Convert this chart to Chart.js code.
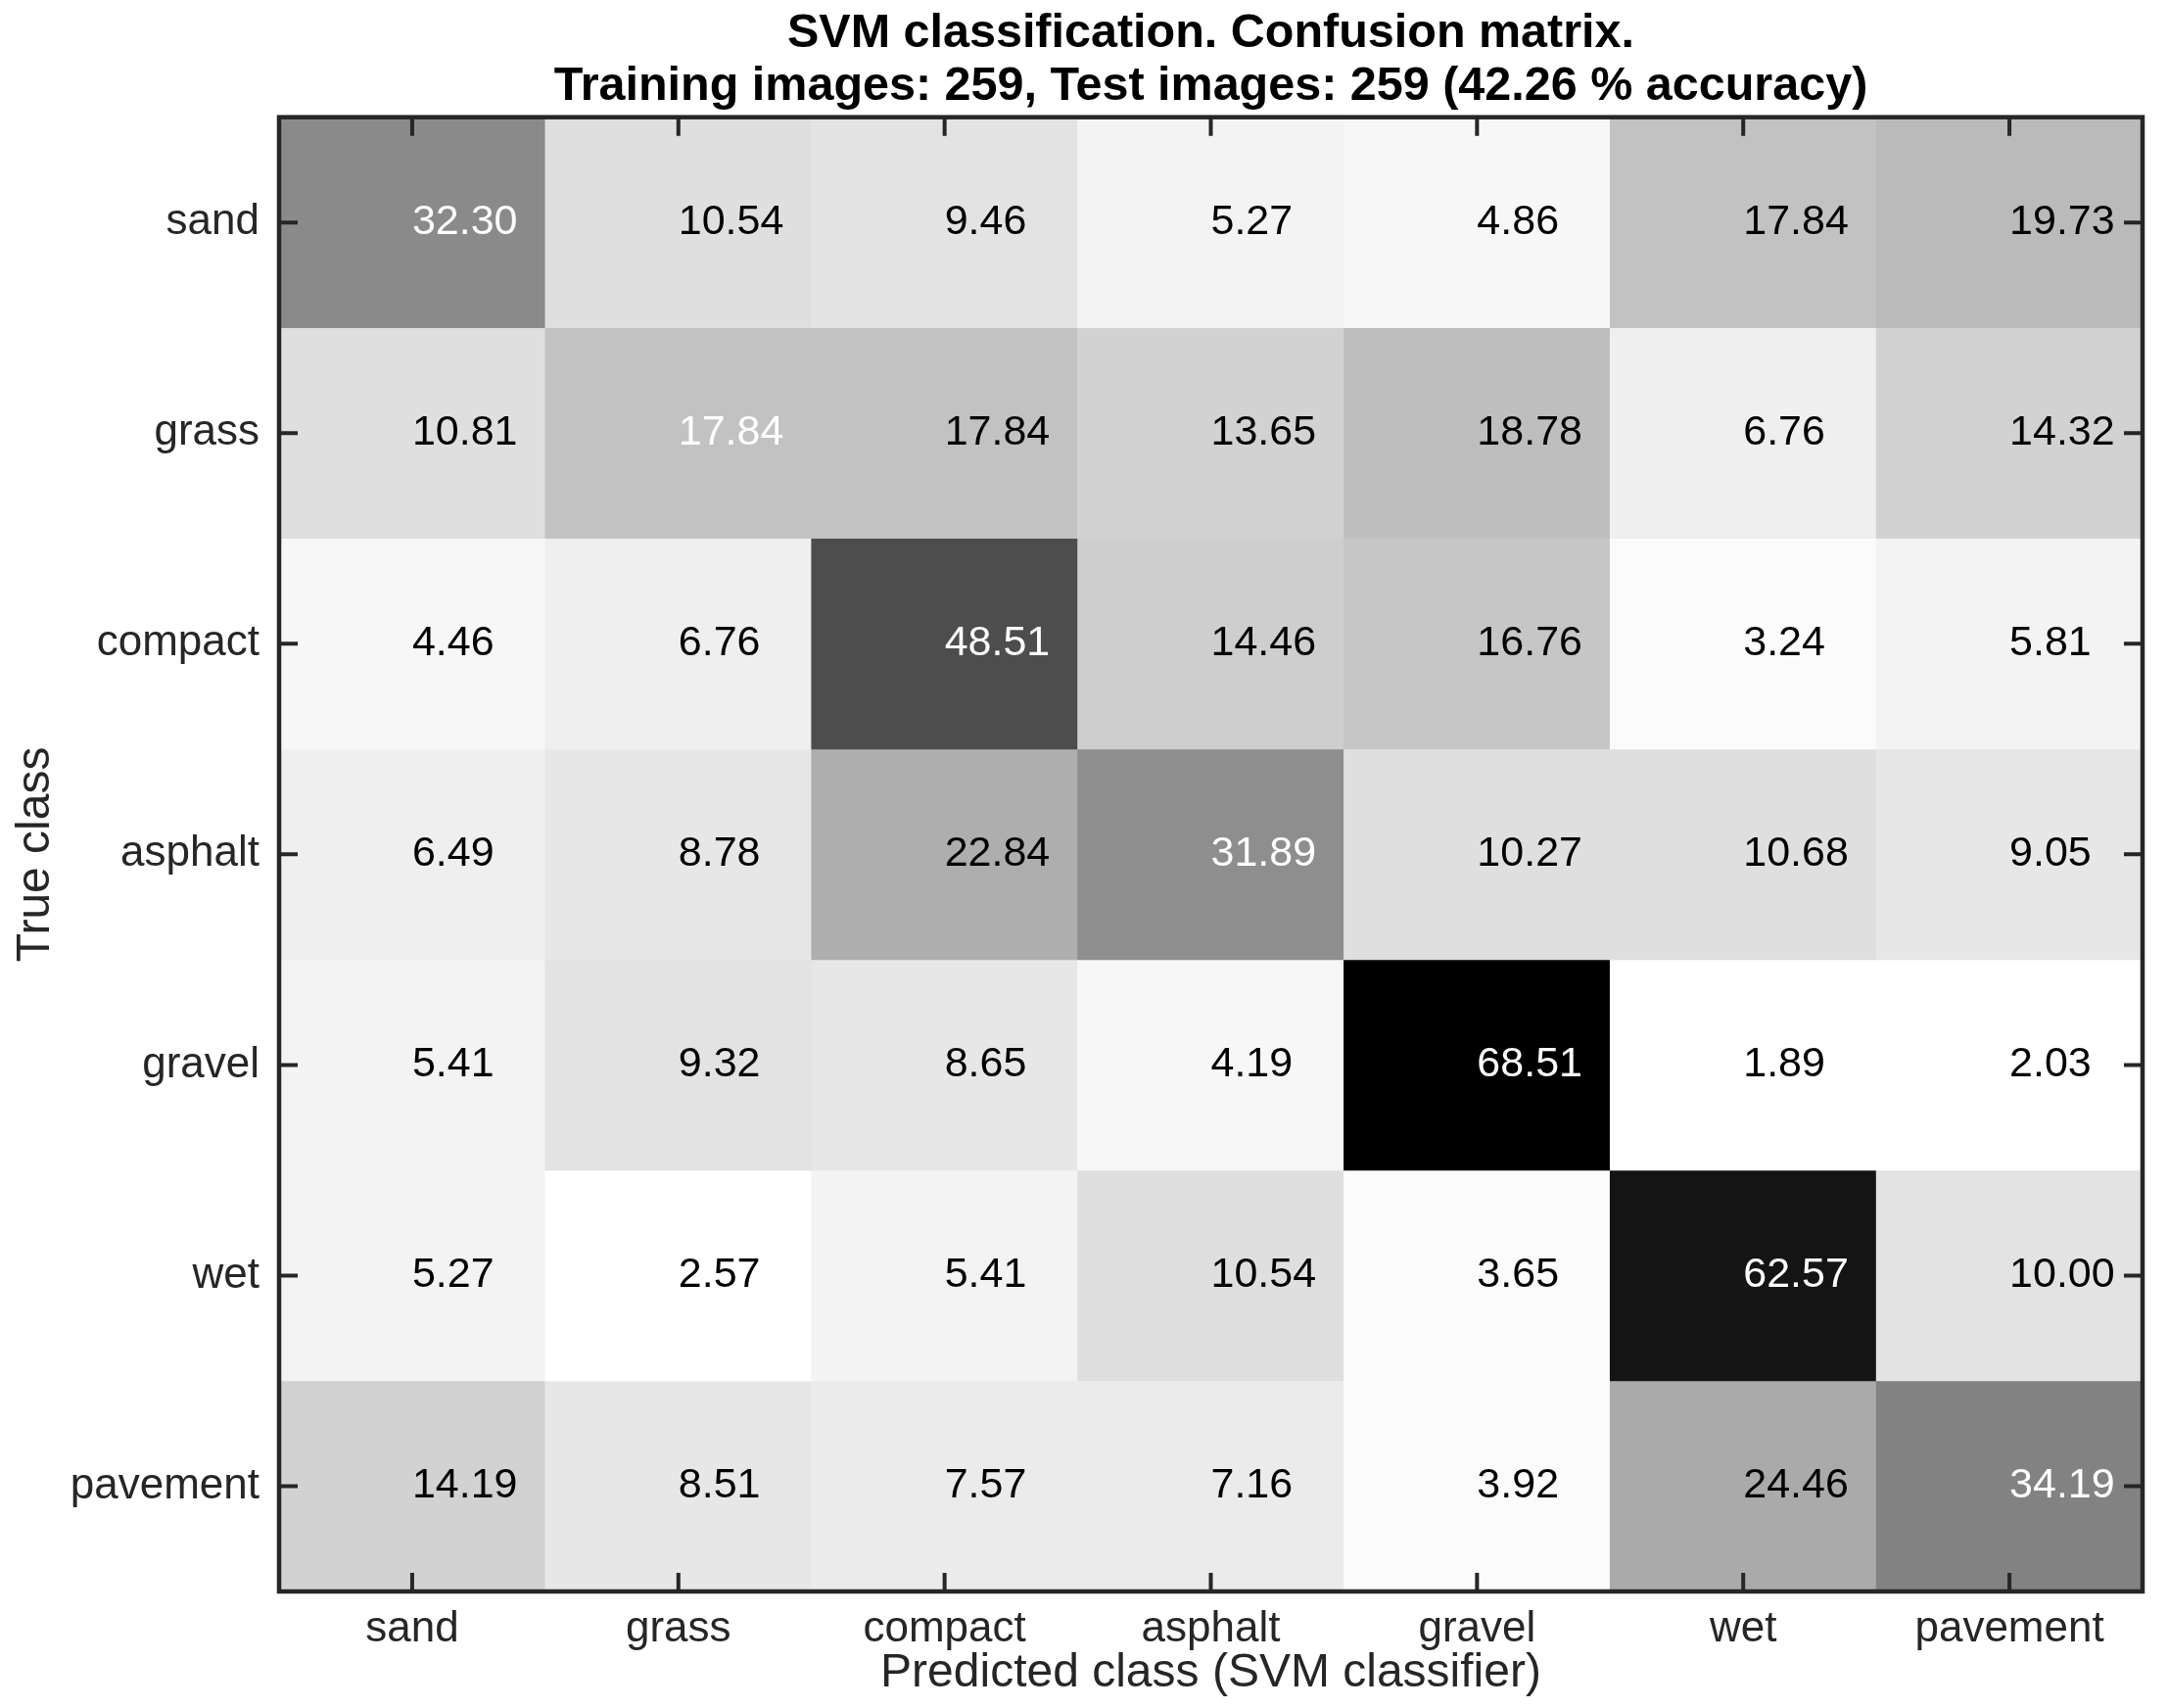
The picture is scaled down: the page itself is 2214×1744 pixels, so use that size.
<!DOCTYPE html>
<html>
<head>
<meta charset="utf-8">
<script src="https://cdn.jsdelivr.net/npm/chart.js@4.4.1/dist/chart.umd.min.js"></script>
<style>
  html, body { margin: 0; padding: 0; background: #fff; }
  #wrap { width: 2214px; height: 1744px; }
</style>
</head>
<body>
<div id="wrap"><canvas id="cm"></canvas></div>
<script>
const predictedClasses = ['sand', 'grass', 'compact', 'asphalt', 'gravel', 'wet', 'pavement'];
const trueClasses = ['sand', 'grass', 'compact', 'asphalt', 'gravel', 'wet', 'pavement'];

// one row per true class, values in % over predicted classes
const sandRow     = [32.30, 10.54,  9.46,  5.27,  4.86, 17.84, 19.73];
const grassRow    = [10.81, 17.84, 17.84, 13.65, 18.78,  6.76, 14.32];
const compactRow  = [ 4.46,  6.76, 48.51, 14.46, 16.76,  3.24,  5.81];
const asphaltRow  = [ 6.49,  8.78, 22.84, 31.89, 10.27, 10.68,  9.05];
const gravelRow   = [ 5.41,  9.32,  8.65,  4.19, 68.51,  1.89,  2.03];
const wetRow      = [ 5.27,  2.57,  5.41, 10.54,  3.65, 62.57, 10.00];
const pavementRow = [14.19,  8.51,  7.57,  7.16,  3.92, 24.46, 34.19];

const rows = [sandRow, grassRow, compactRow, asphaltRow, gravelRow, wetRow, pavementRow];

const titleLines = ['SVM classification. Confusion matrix.',
                    'Training images: 259, Test images: 259 (42.26 % accuracy)'];

const allVals = rows.flat();
const vMin = Math.min(...allVals);
const vMax = Math.max(...allVals);

// inverted gray colormap with 64 levels
function grayFor(v) {
    const idx = Math.min(Math.floor((v - vMin) / (vMax - vMin) * 64), 63);
    const g = Math.round(255 * (63 - idx) / 63);
    return 'rgb(' + g + ',' + g + ',' + g + ')';
}

const datasets = rows.map((row, r) => ({
    label: trueClasses[r],
    data: row.map(() => [r, r + 1]),
    backgroundColor: row.map(grayFor),
    borderWidth: 0,
    barPercentage: 1.0,
    categoryPercentage: 1.0,
    grouped: false
}));

const axisColor = '#262626';

// frame, inward ticks on all four sides and the cell values
const matrixDecor = {
    id: 'matrixDecor',
    afterDatasetsDraw(chart) {
        const ctx = chart.ctx;
        const area = chart.chartArea;
        const xs = chart.scales.x;
        const ys = chart.scales.y;

        ctx.save();
        ctx.font = '43px "Liberation Sans", Arial, sans-serif';
        ctx.textAlign = 'left';
        ctx.textBaseline = 'middle';
        rows.forEach((row, r) => {
            row.forEach((v, c) => {
                const px = xs.getPixelForValue(c);
                const py = ys.getPixelForValue(r + 0.5);
                ctx.fillStyle = (r === c) ? '#ffffff' : '#000000';
                ctx.fillText(v.toFixed(2), px, py);
            });
        });

        const tickLen = 19;
        ctx.strokeStyle = axisColor;
        ctx.lineWidth = 4;
        ctx.beginPath();
        xs.ticks.forEach((t, i) => {
            const px = xs.getPixelForTick(i);
            ctx.moveTo(px, area.bottom);
            ctx.lineTo(px, area.bottom - tickLen);
            ctx.moveTo(px, area.top);
            ctx.lineTo(px, area.top + tickLen);
        });
        ys.ticks.forEach((t, i) => {
            const py = ys.getPixelForTick(i);
            ctx.moveTo(area.left, py);
            ctx.lineTo(area.left + tickLen, py);
            ctx.moveTo(area.right, py);
            ctx.lineTo(area.right - tickLen, py);
        });
        ctx.stroke();

        ctx.lineWidth = 4.5;
        ctx.strokeRect(area.left, area.top, area.right - area.left, area.bottom - area.top);
        ctx.restore();
    }
};

new Chart(document.getElementById('cm'), {
    type: 'bar',
    data: {
        labels: predictedClasses,
        datasets: datasets
    },
    options: {
        responsive: true,
        maintainAspectRatio: false,
        animation: false,
        layout: { padding: { top: 0, right: 26, bottom: 0, left: 0 } },
        plugins: {
            legend: { display: false },
            tooltip: { enabled: false },
            title: {
                display: true,
                text: titleLines,
                fullSize: false,
                color: '#000000',
                font: { family: '"Liberation Sans", Arial, sans-serif', size: 48.5, weight: 'bold', lineHeight: 1.11 },
                padding: { top: 8, bottom: 4 }
            }
        },
        scales: {
            x: {
                type: 'category',
                offset: true,
                grid: { display: false, drawTicks: false },
                border: { display: false },
                ticks: {
                    color: axisColor,
                    padding: 12,
                    font: { family: '"Liberation Sans", Arial, sans-serif', size: 44 }
                },
                title: {
                    display: true,
                    text: 'Predicted class (SVM classifier)',
                    color: axisColor,
                    font: { family: '"Liberation Sans", Arial, sans-serif', size: 48 },
                    padding: { top: 0, bottom: 6 }
                },
                afterFit(scale) { scale.height = 119; }
            },
            y: {
                type: 'linear',
                min: 0,
                max: 7,
                reverse: true,
                grid: { display: false, drawTicks: false },
                border: { display: false },
                afterBuildTicks(scale) {
                    scale.ticks = trueClasses.map((c, i) => ({ value: i + 0.5 }));
                },
                ticks: {
                    color: axisColor,
                    padding: 20,
                    font: { family: '"Liberation Sans", Arial, sans-serif', size: 44 },
                    callback: (value, index) => trueClasses[index]
                },
                title: {
                    display: true,
                    text: 'True class',
                    color: axisColor,
                    font: { family: '"Liberation Sans", Arial, sans-serif', size: 48 },
                    padding: { top: 8, bottom: 0 }
                },
                afterFit(scale) { scale.width = 285; }
            }
        }
    },
    plugins: [matrixDecor]
});
</script>
</body>
</html>
